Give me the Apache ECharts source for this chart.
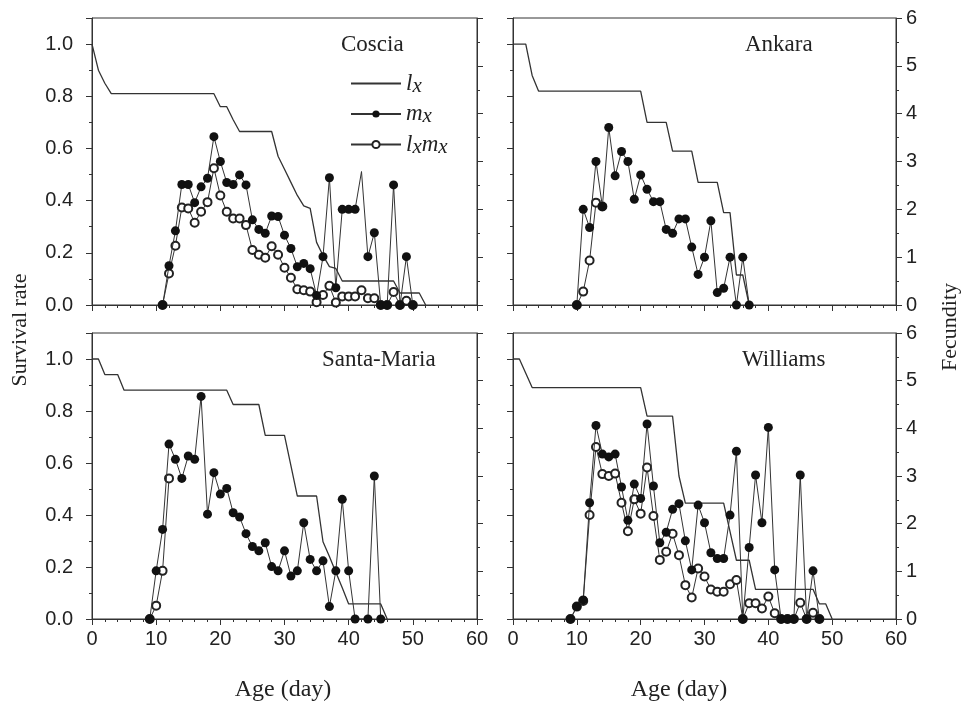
<!DOCTYPE html>
<html>
<head>
<meta charset="utf-8">
<script src="https://cdn.jsdelivr.net/npm/echarts@6/dist/echarts.min.js"></script>
<style>
html, body { margin: 0; padding: 0; background: #fff; }
#main { width: 965px; height: 710px; }
</style>
</head>
<body>
<div id="main"></div>
<script>
'use strict';

// survival rate lx, one value per day starting at day 0
const coLx = [1.0, 0.90, 0.85, 0.81, 0.81, 0.81, 0.81, 0.81, 0.81, 0.81, 0.81, 0.81, 0.81, 0.81, 0.81, 0.81,
    0.81, 0.81, 0.81, 0.81, 0.76, 0.76, 0.71, 0.665, 0.665, 0.665, 0.665, 0.665, 0.665, 0.57, 0.52, 0.47,
    0.42, 0.38, 0.37, 0.24, 0.19, 0.147, 0.14, 0.092, 0.092, 0.092, 0.092, 0.092, 0.092, 0.092, 0.092, 0.092,
    0.046, 0.046, 0.046, 0.046, 0];
const anLx = [1.0, 1.0, 1.0, 0.88, 0.82, 0.82, 0.82, 0.82, 0.82, 0.82, 0.82, 0.82, 0.82, 0.82, 0.82, 0.82,
    0.82, 0.82, 0.82, 0.82, 0.82, 0.70, 0.70, 0.70, 0.70, 0.59, 0.59, 0.59, 0.59, 0.47, 0.47, 0.47,
    0.47, 0.354, 0.354, 0.115, 0.115, 0];
const smLx = [1.0, 1.0, 0.94, 0.94, 0.94, 0.88, 0.88, 0.88, 0.88, 0.88, 0.88, 0.88, 0.88, 0.88, 0.88, 0.88,
    0.88, 0.88, 0.88, 0.88, 0.88, 0.88, 0.825, 0.825, 0.825, 0.825, 0.825, 0.706, 0.706, 0.706, 0.706, 0.59,
    0.473, 0.473, 0.473, 0.473, 0.297, 0.24, 0.18, 0.12, 0.058, 0.058, 0.058, 0.058, 0.058, 0.058, 0];
const wiLx = [1.0, 1.0, 0.945, 0.89, 0.89, 0.89, 0.89, 0.89, 0.89, 0.89, 0.89, 0.89, 0.89, 0.89, 0.89, 0.89,
    0.89, 0.89, 0.89, 0.89, 0.89, 0.78, 0.78, 0.78, 0.78, 0.78, 0.55, 0.446, 0.446, 0.446, 0.446, 0.446,
    0.446, 0.446, 0.336, 0.226, 0.226, 0.226, 0.114, 0.114, 0.114, 0.114, 0.114, 0.114, 0.114, 0.114, 0.114,
    0.114, 0.058, 0.058, 0];

// fecundity mx and lxmx
const coDays = [11, 12, 13, 14, 15, 16, 17, 18, 19, 20, 21, 22, 23, 24, 25, 26, 27, 28, 29, 30,
    31, 32, 33, 34, 35, 36, 37, 38, 39, 40, 41, 42, 43, 44, 45, 46, 47, 48, 49, 50];
const coMx = [0, 0.82, 1.55, 2.52, 2.52, 2.14, 2.47, 2.65, 3.52, 3.0, 2.56, 2.52, 2.72, 2.51, 1.78, 1.58,
    1.50, 1.86, 1.85, 1.46, 1.18, 0.80, 0.87, 0.76, 0.20, 1.01, 2.66, 0.36, 2.0, 2.0, 2.0, 2.79,
    1.01, 1.51, 0, 0, 2.51, 0, 1.01, 0];
const coLxMx = [0, 0.66, 1.24, 2.04, 2.02, 1.72, 1.95, 2.15, 2.86, 2.29, 1.95, 1.81, 1.81, 1.67, 1.15, 1.05,
    0.99, 1.23, 1.05, 0.78, 0.57, 0.33, 0.31, 0.28, 0.06, 0.21, 0.40, 0.05, 0.18, 0.18, 0.18, 0.31,
    0.14, 0.14, 0, 0, 0.27, 0, 0.09, 0];
const coNoMark = [42];

const anDays = [10, 11, 12, 13, 14, 15, 16, 17, 18, 19, 20, 21, 22, 23, 24, 25, 26, 27, 28, 29,
    30, 31, 32, 33, 34, 35, 36, 37];
const anMx = [0, 2.0, 1.62, 3.0, 2.06, 3.71, 2.70, 3.21, 3.0, 2.21, 2.72, 2.42, 2.16, 2.16, 1.58, 1.50,
    1.80, 1.80, 1.21, 0.64, 1.0, 1.76, 0.26, 0.35, 1.0, 0, 1.0, 0];
const anLxMxDays = [10, 11, 12, 13, 14];
const anLxMx = [0, 0.28, 0.93, 2.14, 2.06];

const smDays = [9, 10, 11, 12, 13, 14, 15, 16, 17, 18, 19, 20, 21, 22, 23, 24, 25, 26, 27, 28, 29,
    30, 31, 32, 33, 34, 35, 36, 37, 38, 39, 40, 41, 43, 44, 45];
const smMx = [0, 1.01, 1.88, 3.67, 3.35, 2.95, 3.42, 3.35, 4.67, 2.20, 3.07, 2.62, 2.74, 2.23, 2.14, 1.79,
    1.52, 1.43, 1.60, 1.10, 1.01, 1.43, 0.90, 1.01, 2.02, 1.25, 1.01, 1.22, 0.26, 1.01, 2.51, 1.01,
    0, 0, 3.0, 0];
const smLxMxDays = [9, 10, 11, 12];
const smLxMx = [0, 0.28, 1.01, 2.95];

const wiDays = [9, 10, 11, 12, 13, 14, 15, 16, 17, 18, 19, 20, 21, 22, 23, 24, 25, 26, 27, 28,
    29, 30, 31, 32, 33, 34, 35, 36, 37, 38, 39, 40, 41, 42, 43, 44, 45, 46, 47, 48];
const wiMx = [0, 0.26, 0.40, 2.44, 4.06, 3.46, 3.40, 3.46, 2.77, 2.07, 2.83, 2.53, 4.09, 2.79, 1.60, 1.82,
    2.30, 2.42, 1.64, 1.03, 2.39, 2.02, 1.39, 1.27, 1.27, 2.18, 3.52, 0, 1.50, 3.02, 2.02, 4.02,
    1.03, 0, 0, 0, 3.02, 0, 1.01, 0];
const wiLxMx = [0, 0.26, 0.38, 2.18, 3.61, 3.04, 3.0, 3.05, 2.44, 1.84, 2.51, 2.21, 3.18, 2.16, 1.24, 1.41,
    1.79, 1.34, 0.71, 0.45, 1.06, 0.89, 0.62, 0.57, 0.57, 0.73, 0.82, 0, 0.33, 0.33, 0.22, 0.47,
    0.12, 0, 0, 0, 0.34, 0, 0.13, 0];

const panelNames = ['Coscia', 'Ankara', 'Santa-Maria', 'Williams'];
const xTicks = [0, 10, 20, 30, 40, 50, 60];

const panels = [
    { lx: coLx, mxDays: coDays, mx: coMx, lxmxDays: coDays, lxmx: coLxMx, noMark: coNoMark },
    { lx: anLx, mxDays: anDays, mx: anMx, lxmxDays: anLxMxDays, lxmx: anLxMx, noMark: [] },
    { lx: smLx, mxDays: smDays, mx: smMx, lxmxDays: smLxMxDays, lxmx: smLxMx, noMark: [] },
    { lx: wiLx, mxDays: wiDays, mx: wiMx, lxmxDays: wiDays, lxmx: wiLxMx, noMark: [] }
];

// grid boxes (px)
const grids = [
    { left: 92, top: 18, width: 385, height: 287 },
    { left: 513, top: 18, width: 383, height: 287 },
    { left: 92, top: 333, width: 385, height: 286 },
    { left: 513, top: 333, width: 383, height: 286 }
];
const titlePos = [[341, 33], [745, 33], [322, 348], [742, 348]];

const ink = '#222';
const axisColor = '#333';
const serif = '"Liberation Serif", "Times New Roman", serif';
const sans = '"Liberation Sans", Arial, sans-serif';

const chart = echarts.init(document.getElementById('main'));

function pairs(days, vals) {
    return days.map((d, i) => [d, vals[i]]);
}

const xAxes = grids.map((g, i) => ({
    gridIndex: i,
    type: 'value',
    min: xTicks[0],
    max: xTicks[xTicks.length - 1],
    interval: 10,
    axisLine: { show: true, onZero: false, lineStyle: { color: axisColor, width: 1 } },
    axisTick: { show: true, length: 6, lineStyle: { color: axisColor } },
    minorTick: { show: true, splitNumber: 5, length: 3, lineStyle: { color: axisColor } },
    axisLabel: {
        show: i >= 2, margin: 10, fontSize: 20, fontFamily: sans, color: ink
    },
    splitLine: { show: false }
}));

const yAxes = [];
grids.forEach((g, i) => {
    yAxes.push({
        gridIndex: i,
        type: 'value',
        position: 'left',
        min: 0,
        max: 1.1,
        interval: 0.2,
        axisLine: { show: true, lineStyle: { color: axisColor, width: 1 } },
        axisTick: { show: true, length: 6, lineStyle: { color: axisColor } },
        minorTick: { show: true, splitNumber: 2, length: 3, lineStyle: { color: axisColor } },
        axisLabel: {
            show: i % 2 === 0, margin: 19, fontSize: 20, fontFamily: sans, color: ink,
            showMaxLabel: false,
            formatter: v => v.toFixed(1)
        },
        splitLine: { show: false }
    });
    yAxes.push({
        gridIndex: i,
        type: 'value',
        position: 'right',
        min: 0,
        max: 6,
        interval: 1,
        axisLine: { show: true, lineStyle: { color: axisColor, width: 1 } },
        axisTick: { show: true, length: 6, lineStyle: { color: axisColor } },
        minorTick: { show: true, splitNumber: 2, length: 3, lineStyle: { color: axisColor } },
        axisLabel: { show: i % 2 === 1, margin: 10, fontSize: 20, fontFamily: sans, color: ink },
        splitLine: { show: false }
    });
});

const series = [];
panels.forEach((p, i) => {
    series.push({
        name: 'lx',
        type: 'line',
        xAxisIndex: i,
        yAxisIndex: 2 * i,
        symbol: 'none',
        lineStyle: { color: '#333', width: 1.3 },
        itemStyle: { color: '#333' },
        data: p.lx.map((v, d) => [d, v]),
        z: 2
    });
    series.push({
        name: 'lxmx',
        type: 'line',
        xAxisIndex: i,
        yAxisIndex: 2 * i + 1,
        symbol: 'emptyCircle',
        symbolSize: 8,
        lineStyle: { color: '#333', width: 1 },
        itemStyle: { color: ink, borderWidth: 1 },
        data: pairs(p.lxmxDays, p.lxmx),
        z: 3
    });
    series.push({
        name: 'mx',
        type: 'line',
        xAxisIndex: i,
        yAxisIndex: 2 * i + 1,
        symbol: 'circle',
        symbolSize: 9,
        lineStyle: { color: '#333', width: 1 },
        itemStyle: { color: '#111' },
        data: pairs(p.mxDays, p.mx).map(pt =>
            p.noMark.includes(pt[0]) ? { value: pt, symbol: 'none' } : pt),
        z: 4
    });
});

const legendText = {
    lx: '{v|l}{s|x}',
    mx: '{v|m}{s|x}',
    lxmx: '{v|l}{s|x}{v|m}{s|x}'
};

const option = {
    animation: false,
    backgroundColor: '#fff',
    title: panelNames.map((name, i) => ({
        text: name,
        left: titlePos[i][0],
        top: titlePos[i][1],
        padding: 0,
        textStyle: { fontFamily: serif, fontSize: 23, fontWeight: 'normal', color: ink }
    })),
    legend: {
        data: [{ name: 'lx', itemStyle: { opacity: 0 } }, 'mx', 'lxmx'],
        orient: 'vertical',
        left: 345,
        top: 67,
        itemWidth: 50,
        itemHeight: 9,
        itemGap: 6,
        selectedMode: false,
        formatter: name => legendText[name],
        textStyle: {
            color: ink,
            rich: {
                v: { fontFamily: serif, fontStyle: 'italic', fontSize: 23, lineHeight: 26, color: ink },
                s: { fontFamily: serif, fontStyle: 'italic', fontSize: 21, lineHeight: 18, verticalAlign: 'bottom', color: ink }
            }
        }
    },
    grid: grids.map(g => ({
        left: g.left, top: g.top, width: g.width, height: g.height,
        show: true, borderColor: axisColor, borderWidth: 1, backgroundColor: 'transparent'
    })),
    xAxis: xAxes,
    yAxis: yAxes,
    graphic: [
        {
            type: 'text', x: 20, y: 330, rotation: Math.PI / 2,
            style: { text: 'Survival rate', font: '22px ' + serif, fill: ink, textAlign: 'center', textVerticalAlign: 'middle' }
        },
        {
            type: 'text', x: 950, y: 327, rotation: Math.PI / 2,
            style: { text: 'Fecundity', font: '22px ' + serif, fill: ink, textAlign: 'center', textVerticalAlign: 'middle' }
        },
        {
            type: 'text', x: 283, y: 690,
            style: { text: 'Age (day)', font: '24px ' + serif, fill: ink, textAlign: 'center', textVerticalAlign: 'middle' }
        },
        {
            type: 'text', x: 679, y: 690,
            style: { text: 'Age (day)', font: '24px ' + serif, fill: ink, textAlign: 'center', textVerticalAlign: 'middle' }
        }
    ],
    series: series
};

chart.setOption(option);
</script>
</body>
</html>
